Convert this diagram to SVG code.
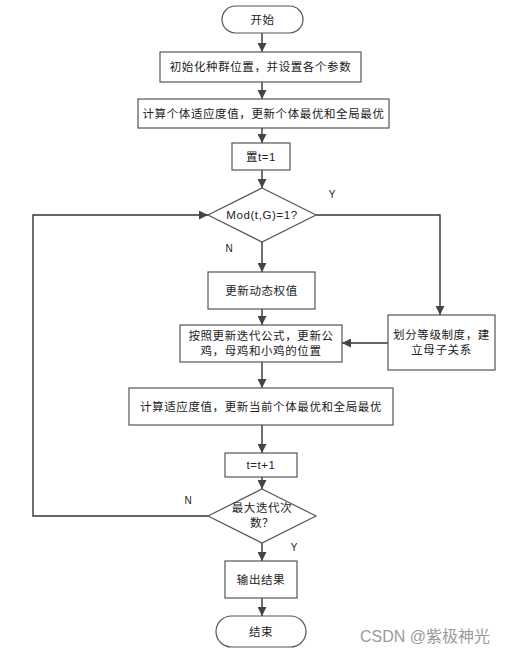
<svg xmlns="http://www.w3.org/2000/svg" width="506" height="653" viewBox="0 0 506 653">
<style>
.box{fill:#fff;stroke:#555;stroke-width:1.2}
.t{font-family:"Liberation Sans","Noto Sans CJK SC",sans-serif;font-size:11.5px;fill:#222;text-anchor:middle;letter-spacing:0.6px}
.lbl{font-family:"Liberation Sans","Noto Sans CJK SC",sans-serif;font-size:10px;fill:#222;text-anchor:middle}
.ln{fill:none;stroke:#333;stroke-width:1.4}
.wm{font-family:"Liberation Sans","Noto Sans CJK SC",sans-serif;font-size:16px;fill:#9a9a9a}
</style>
<defs>
<marker id="ah" viewBox="0 0 10 10" refX="10" refY="5" markerWidth="9" markerHeight="9" markerUnits="userSpaceOnUse" orient="auto">
<path d="M0,0 L10,5 L0,10 Z" fill="#444"/>
</marker>
</defs>
<rect width="506" height="653" fill="#fff"/>
<g id="connectors">
<line class="ln" x1="262" y1="33" x2="262" y2="52" marker-end="url(#ah)"/>
<line class="ln" x1="262" y1="82" x2="262" y2="99" marker-end="url(#ah)"/>
<line class="ln" x1="262" y1="128" x2="262" y2="143" marker-end="url(#ah)"/>
<line class="ln" x1="262" y1="170" x2="262" y2="188" marker-end="url(#ah)"/>
<line class="ln" x1="262" y1="242" x2="262" y2="272" marker-end="url(#ah)"/>
<line class="ln" x1="262" y1="309" x2="262" y2="325" marker-end="url(#ah)"/>
<line class="ln" x1="262" y1="362" x2="262" y2="388" marker-end="url(#ah)"/>
<line class="ln" x1="262" y1="425" x2="262" y2="453" marker-end="url(#ah)"/>
<line class="ln" x1="262" y1="477" x2="262" y2="489" marker-end="url(#ah)"/>
<line class="ln" x1="262" y1="543" x2="262" y2="561" marker-end="url(#ah)"/>
<line class="ln" x1="262" y1="598" x2="262" y2="616" marker-end="url(#ah)"/>
<polyline class="ln" points="208,516 33,516 33,215 208,215" marker-end="url(#ah)"/>
<polyline class="ln" points="316,215 440,215 440,315" marker-end="url(#ah)"/>
<line class="ln" x1="388" y1="343" x2="342" y2="343" marker-end="url(#ah)"/>
<text class="lbl" x="332" y="198">Y</text>
<text class="lbl" x="229" y="252">N</text>
<text class="lbl" x="188" y="504">N</text>
<text class="lbl" x="294" y="551">Y</text>
</g>
<g id="start">
<rect class="box" x="222" y="6" width="81" height="27" rx="13.5"/>
<text class="t" x="262.5" y="23.5">开始</text>
</g>
<g id="init">
<rect class="box" x="160" y="52" width="201" height="30"/>
<text class="t" x="260.5" y="71">初始化种群位置，并设置各个参数</text>
</g>
<g id="fitness1">
<rect class="box" x="138" y="99" width="251" height="29"/>
<text class="t" x="263.5" y="117.5">计算个体适应度值，更新个体最优和全局最优</text>
</g>
<g id="sett">
<rect class="box" x="232" y="143" width="58" height="27"/>
<text class="t" x="261" y="160.5">置t=1</text>
</g>
<g id="mod">
<polygon class="box" points="262,188 316,215 262,242 208,215"/>
<text class="t" x="262" y="219">Mod(t,G)=1?</text>
</g>
<g id="weight">
<rect class="box" x="208" y="272" width="107" height="37"/>
<text class="t" x="261.5" y="294.5">更新动态权值</text>
</g>
<g id="update">
<rect class="box" x="180" y="325" width="162" height="37"/>
<text class="t" x="261" y="340">按照更新迭代公式，更新公</text>
<text class="t" x="261" y="355">鸡，母鸡和小鸡的位置</text>
</g>
<g id="hier">
<rect class="box" x="388" y="315" width="107" height="55"/>
<text class="t" x="441.5" y="339">划分等级制度，建</text>
<text class="t" x="441.5" y="354">立母子关系</text>
</g>
<g id="fitness2">
<rect class="box" x="129" y="388" width="264" height="37"/>
<text class="t" x="261" y="410.5">计算适应度值，更新当前个体最优和全局最优</text>
</g>
<g id="inc">
<rect class="box" x="225" y="453" width="72" height="24"/>
<text class="t" x="261" y="469">t=t+1</text>
</g>
<g id="maxiter">
<polygon class="box" points="262,489 316,516 262,543 208,516"/>
<text class="t" x="262" y="512">最大迭代次</text>
<text class="t" x="262" y="527">数？</text>
</g>
<g id="output">
<rect class="box" x="225" y="561" width="72" height="37"/>
<text class="t" x="261" y="583.5">输出结果</text>
</g>
<g id="end">
<rect class="box" x="216" y="616" width="90" height="31" rx="15.5"/>
<text class="t" x="261" y="635.5">结束</text>
</g>
<text class="wm" x="360" y="642">CSDN @紫极神光</text>
</svg>
